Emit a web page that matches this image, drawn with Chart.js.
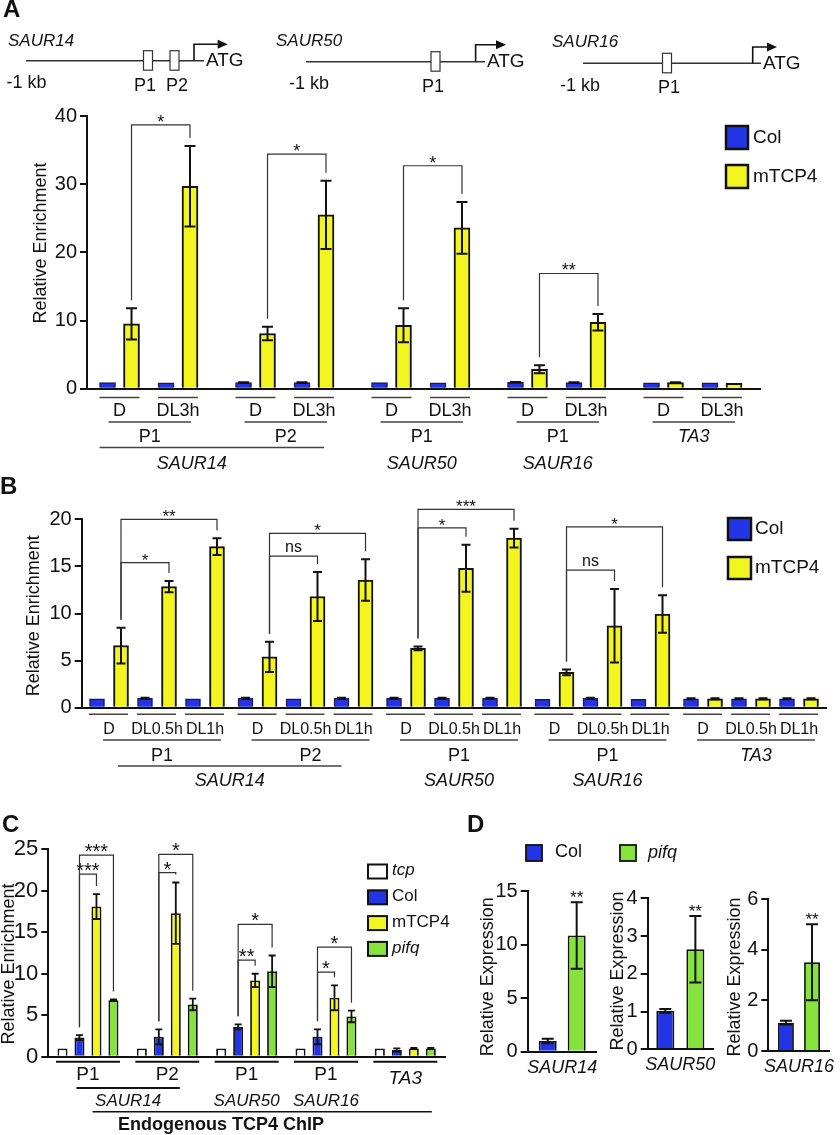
<!DOCTYPE html>
<html lang="en">
<head>
<meta charset="utf-8">
<title>TCP4 ChIP / SAUR expression</title>
<script src="https://cdn.jsdelivr.net/npm/chart.js@4.4.1/dist/chart.umd.min.js"></script>
<style>
  body { margin: 0; background: #fff; }
  #wrap { position: relative; width: 840px; height: 1135px; }
  #wrap canvas { position: absolute; left: 0; top: 0; }
</style>
</head>
<body>
<div id="wrap">
  <canvas id="cA" width="840" height="1135"></canvas>
  <canvas id="cB" width="840" height="1135"></canvas>
  <canvas id="cC" width="840" height="1135"></canvas>
  <canvas id="cD1" width="840" height="1135"></canvas>
  <canvas id="cD2" width="840" height="1135"></canvas>
  <canvas id="cD3" width="840" height="1135"></canvas>
</div>
<script>
const FONT = "'Liberation Sans', Arial, sans-serif";
const INK = '#111';
const BLUE = '#2234e4', YELLOW = '#f3f51f', GREEN = '#86e33b', WHITE = '#ffffff';

// ---- panel A : ChIP, D vs DL3h ----
const condA = ['D','DL3h','D','DL3h','D','DL3h','D','DL3h','D','DL3h'];
const colA = [0.9, 0.85, 0.9, 0.9, 0.9, 0.85, 0.95, 0.9, 0.85, 0.85];
const colAErr = [0, 0, 0.05, 0.05, 0, 0, 0.05, 0.05, 0, 0];
const tcp4A = [9.5, 29.7, 8.1, 25.5, 9.3, 23.6, 2.85, 9.75, 0.9, 0.8];
const tcp4AErr = [2.3, 5.9, 1.0, 5.0, 2.5, 3.8, 0.6, 1.2, 0.05, 0];
const primerA = [['P1',0,1], ['P2',2,3], ['P1',4,5], ['P1',6,7], ['TA3',8,9]];
const geneA = [['SAUR14',0,1], ['SAUR50',2,2], ['SAUR16',3,3]];   // primer ranges
const sigA = [[0,1,38.7,'*'], [2,3,34.4,'*'], [4,5,32.7,'*'], [6,7,16.9,'**']];
const ticksA = [0, 40, 10];

// ---- panel B : ChIP, D / DL0.5h / DL1h ----
const condB = ['D','DL0.5h','DL1h','D','DL0.5h','DL1h','D','DL0.5h','DL1h','D','DL0.5h','DL1h','D','DL0.5h','DL1h'];
const colB = [0.95, 1.0, 0.95, 1.0, 0.95, 1.0, 1.0, 1.0, 1.0, 0.9, 1.0, 0.9, 0.95, 0.95, 0.95];
const colBErr = [0, 0.05, 0, 0.05, 0, 0.05, 0.05, 0.05, 0.05, 0, 0.05, 0, 0.05, 0.05, 0.05];
const tcp4B = [6.6, 12.85, 17.1, 5.4, 11.8, 13.55, 6.3, 14.8, 18.0, 3.75, 8.7, 9.95, 0.95, 0.95, 0.95];
const tcp4BErr = [1.9, 0.6, 0.9, 1.6, 2.6, 2.2, 0.2, 2.5, 1.0, 0.3, 3.9, 2.0, 0.05, 0.05, 0.05];
const primerB = [['P1',0,2], ['P2',3,5], ['P1',6,8], ['P1',9,11], ['TA3',12,14]];
const geneB = [['SAUR14',0,1], ['SAUR50',2,2], ['SAUR16',3,3]];
const sigB = [[0,1,15.4,'*'], [0,2,20,'**'], [3,4,16.1,'ns'], [3,5,18.5,'*'],
              [6,7,19.1,'*'], [6,8,21.05,'***'], [9,10,14.6,'ns'], [9,11,19.2,'*']];
const ticksB = [0, 20, 5];

// ---- panel C : endogenous TCP4 ChIP ----
const groupC = ['P1','P2','P1','P1','TA3'];
const geneC = [['SAUR14',0,1], ['SAUR50',2,2], ['SAUR16',3,3]];
const tcpC = [1.0, 1.0, 1.0, 1.0, 1.0];
const colC = [2.3, 2.4, 3.6, 2.4, 0.8];
const colCErr = [0.3, 0.9, 0.3, 0.9, 0.2];
const tcp4C = [18.1, 17.3, 9.2, 7.1, 1.0];
const tcp4CErr = [1.5, 3.7, 0.8, 1.5, 0.05];
const pifqC = [6.8, 6.3, 10.3, 4.85, 1.0];
const pifqCErr = [0.1, 0.7, 1.9, 0.7, 0.05];
// group, dataset compared with Col, level, label
const sigC = [[0,2,22.0,'***'], [0,3,24.3,'***'], [1,2,22.2,'*'], [1,3,24.4,'*'],
              [2,2,11.65,'**'], [2,3,15.95,'*'], [3,2,10.2,'*'], [3,3,13.2,'*']];
const ticksC = [0, 25, 5];

// ---- panel D : expression ----
const geneD = ['SAUR14','SAUR50','SAUR16'];
const colD = [1.0, 1.02, 1.12];
const colDErr = [0.22, 0.05, 0.07];
const pifqD = [10.85, 2.65, 3.5];
const pifqDErr = [3.1, 0.88, 1.5];
const maxD = [15, 4, 6];
const stepD = [5, 1, 2];
const sigD = ['**', '**', '**'];

// ---------- helpers ----------
function val(p) { return (p !== null && typeof p === 'object') ? p.y : p; }
function topOf(chart, d, i) {
  const ds = chart.data.datasets[d];
  return val(ds.data[i]) + (ds.err ? ds.err[i] : 0);
}
function txt(ctx, s, x, y, size, opt) {
  opt = opt || {};
  ctx.font = (opt.style || '') + ' ' + size + 'px ' + FONT;
  ctx.fillStyle = INK;
  ctx.textAlign = opt.align || 'center';
  ctx.textBaseline = opt.base || 'middle';
  ctx.fillText(s, x, y);
}
function hline(ctx, a, b, y, w, c) {
  ctx.strokeStyle = c || '#444';
  ctx.lineWidth = w || 1.5;
  ctx.beginPath(); ctx.moveTo(a, y); ctx.lineTo(b, y); ctx.stroke();
}
function box(ctx, x, y, w, h, fill, lw) {
  ctx.fillStyle = fill; ctx.fillRect(x, y, w, h);
  ctx.lineWidth = lw; ctx.strokeStyle = INK; ctx.strokeRect(x, y, w, h);
}
function yTitle(ctx, s, x, y, size) {
  ctx.save();
  ctx.translate(x, y); ctx.rotate(-Math.PI / 2);
  txt(ctx, s, 0, 0, size);
  ctx.restore();
}
function bracket(chart, da, ia, db, ib, level, label, size) {
  const ctx = chart.ctx, ys = chart.scales.y;
  const ea = chart.getDatasetMeta(da).data[ia], eb = chart.getDatasetMeta(db).data[ib];
  const ta = ys.getPixelForValue(topOf(chart, da, ia)) - 8;
  const tb = ys.getPixelForValue(topOf(chart, db, ib)) - 8;
  const yl = ys.getPixelForValue(level);
  ctx.strokeStyle = '#333'; ctx.lineWidth = 1.2;
  ctx.beginPath();
  ctx.moveTo(ea.x, ta); ctx.lineTo(ea.x, yl); ctx.lineTo(eb.x, yl); ctx.lineTo(eb.x, tb);
  ctx.stroke();
  if (label === 'ns') txt(ctx, label, (ea.x + eb.x) / 2, yl - 4, 16, {base: 'alphabetic'});
  else txt(ctx, label, (ea.x + eb.x) / 2, yl + 3, size, {base: 'alphabetic'});
}
// x position of condition i: one unit per condition plus a small gap between primer groups
function posOf(i, primers, gap) {
  const g = primers.findIndex(p => i >= p[1] && i <= p[2]);
  return i + g * gap;
}
function pad(area, yW, xH) {
  return { left: area[0] - yW, top: area[1], right: 840 - area[2], bottom: 1135 - area[3] - xH };
}
function yScale(t, size, w) {
  return {
    min: t[0], max: t[1],
    ticks: { stepSize: t[2], color: INK, font: { family: FONT, size: size }, padding: 3 },
    grid: { drawOnChartArea: false, color: INK, lineWidth: 2, tickLength: 7 },
    border: { color: INK, width: 2 },
    afterFit: s => { s.width = w; }
  };
}

const errPlugin = {
  id: 'errbars',
  afterDatasetsDraw(chart, args, opts) {
    const ctx = chart.ctx, ys = chart.scales.y;
    const cap = opts.cap || 5;
    ctx.save();
    ctx.strokeStyle = INK; ctx.lineWidth = opts.width || 2;
    chart.data.datasets.forEach((ds, d) => {
      if (!ds.err) return;
      chart.getDatasetMeta(d).data.forEach((el, i) => {
        const e = ds.err[i];
        if (!e) return;
        const v = val(ds.data[i]);
        const y1 = ys.getPixelForValue(v + e), y2 = ys.getPixelForValue(v - e);
        ctx.beginPath();
        ctx.moveTo(el.x, y1); ctx.lineTo(el.x, y2);
        ctx.moveTo(el.x - cap, y1); ctx.lineTo(el.x + cap, y1);
        ctx.moveTo(el.x - cap, y2); ctx.lineTo(el.x + cap, y2);
        ctx.stroke();
      });
    });
    ctx.restore();
  }
};

function schematic(ctx) {
  const genes = [
    { name: 'SAUR14', nx: 8, ny: 41, x0: 26, x1: 204, y: 60.7, boxes: [[148, 'P1', 145], [174.5, 'P2', 177]], ar: 194, ae: 227.7, ay: 44.3, kb: 6.4 },
    { name: 'SAUR50', nx: 276, ny: 41, x0: 306, x1: 485, y: 61.7, boxes: [[435.5, 'P1', 433]], ar: 475.6, ae: 506, ay: 44.7, kb: 289 },
    { name: 'SAUR16', nx: 552, ny: 42, x0: 583, x1: 761, y: 63.3, boxes: [[667, 'P1', 669]], ar: 752.7, ae: 777, ay: 47, kb: 560 }
  ];
  genes.forEach(g => {
    txt(ctx, g.name, g.nx, g.ny, 17, {style: 'italic', align: 'left'});
    hline(ctx, g.x0, g.x1, g.y, 1.6, '#333');
    g.boxes.forEach(b => {
      ctx.fillStyle = '#fff'; ctx.fillRect(b[0] - 4.5, g.y - 10, 9, 19.5);
      ctx.strokeStyle = '#333'; ctx.lineWidth = 1.2; ctx.strokeRect(b[0] - 4.5, g.y - 10, 9, 19.5);
      txt(ctx, b[1], b[2], g.y + 25, 18);
    });
    ctx.strokeStyle = INK; ctx.lineWidth = 1.6;
    ctx.beginPath(); ctx.moveTo(g.ar, g.y); ctx.lineTo(g.ar, g.ay); ctx.lineTo(g.ae - 7, g.ay); ctx.stroke();
    ctx.fillStyle = INK;
    ctx.beginPath(); ctx.moveTo(g.ae, g.ay); ctx.lineTo(g.ae - 10, g.ay - 4.5); ctx.lineTo(g.ae - 10, g.ay + 4.5); ctx.closePath(); ctx.fill();
    txt(ctx, 'ATG', g.x1 + 2, g.y + 0.5, 19, {align: 'left'});
    txt(ctx, '-1 kb', g.kb, g.y + 22.5, 18, {align: 'left'});
  });
}

// ---------- panel A ----------
const areaA = [87, 116, 760, 388.7];
const gapA = 0.325, offA = 0.205;
function drawA(chart) {
  const ctx = chart.ctx, xs = chart.scales.x;
  const cx = i => xs.getPixelForValue(posOf(i, primerA, gapA));
  ctx.save();
  txt(ctx, 'A', 3, 10, 24, {style: 'bold', align: 'left'});
  schematic(ctx);
  yTitle(ctx, 'Relative Enrichment', 41, 243, 18);
  box(ctx, 726, 126, 22, 23, BLUE, 2.5); txt(ctx, 'Col', 753, 137.5, 19, {align: 'left'});
  box(ctx, 726, 165, 22, 23, YELLOW, 2.5); txt(ctx, 'mTCP4', 753, 176.5, 19, {align: 'left'});
  condA.forEach((c, i) => { hline(ctx, cx(i) - 20, cx(i) + 20, 397.5); txt(ctx, c, cx(i), 411.5, 18); });
  const pc = primerA.map(p => {
    const a = cx(p[1]) - 11, b = cx(p[2]) + 13;
    hline(ctx, a, b, 422);
    txt(ctx, p[0], (a + b) / 2, 437, 18, {style: p[0] === 'TA3' ? 'italic' : ''});
    return (a + b) / 2;
  });
  geneA.forEach(g => {
    let x = pc[g[1]];
    if (g[2] > g[1]) {
      const a = cx(primerA[g[1]][1]) - 20, b = cx(primerA[g[2]][2]) + 10;
      hline(ctx, a, b, 447.5);
      x = (a + b) / 2 - 20;
    }
    txt(ctx, g[0], x, 463.5, 18, {style: 'italic'});
  });
  sigA.forEach(s => bracket(chart, 1, s[0], 1, s[1], s[2], s[3], 18));
  ctx.restore();
}
new Chart(document.getElementById('cA'), {
  type: 'bar',
  data: { datasets: [
    { label: 'Col', data: condA.map((c, i) => ({ x: posOf(i, primerA, gapA) - offA, y: colA[i] })), err: colAErr,
      backgroundColor: BLUE, borderColor: '#1a1a55', borderWidth: 1.5, barThickness: 16 },
    { label: 'mTCP4', data: condA.map((c, i) => ({ x: posOf(i, primerA, gapA) + offA, y: tcp4A[i] })), err: tcp4AErr,
      backgroundColor: YELLOW, borderColor: INK, borderWidth: 2, barThickness: 16 }
  ]},
  options: {
    responsive: false, animation: false, events: [],
    layout: { padding: pad(areaA, 60, 0) },
    datasets: { bar: { grouped: false } },
    scales: {
      x: { type: 'linear', min: -0.556, max: 10.95, offset: false, ticks: { display: false }, grid: { display: false },
           border: { color: INK, width: 2 }, afterFit: s => { s.height = 0; } },
      y: yScale(ticksA, 20, 60)
    },
    plugins: { legend: { display: false }, tooltip: { enabled: false }, errbars: { cap: 5.5, width: 2 } }
  },
  plugins: [errPlugin, { id: 'decoA', afterDraw: drawA }]
});

// ---------- panel B ----------
const areaB = [81.7, 519.3, 826.7, 707.7];
const gapB = 0.094, offB = 0.25;
function drawB(chart) {
  const ctx = chart.ctx, xs = chart.scales.x;
  const cx = i => xs.getPixelForValue(posOf(i, primerB, gapB));
  ctx.save();
  txt(ctx, 'B', 0, 487, 24, {style: 'bold', align: 'left'});
  yTitle(ctx, 'Relative Enrichment', 34.5, 615.7, 18);
  box(ctx, 728, 518, 23, 22, BLUE, 2.5); txt(ctx, 'Col', 755, 529, 19, {align: 'left'});
  box(ctx, 728, 557, 23, 22, YELLOW, 2.5); txt(ctx, 'mTCP4', 755, 568, 19, {align: 'left'});
  condB.forEach((c, i) => { hline(ctx, cx(i) - 20, cx(i) + 19, 714.3); txt(ctx, c, cx(i), 730, 16); });
  const pc = primerB.map(p => {
    const a = cx(p[1]) - 6, b = cx(p[2]) + 16;
    hline(ctx, a, b, 740);
    txt(ctx, p[0], (a + b) / 2, 755.7, 18, {style: p[0] === 'TA3' ? 'italic' : ''});
    return (a + b) / 2;
  });
  geneB.forEach(g => {
    let x = pc[g[1]];
    if (g[2] > g[1]) {
      const a = cx(primerB[g[1]][1]) + 9, b = cx(primerB[g[2]][2]) - 12;
      hline(ctx, a, b, 766);
      x = (a + b) / 2;
    }
    txt(ctx, g[0], x, 781, 18, {style: 'italic'});
  });
  sigB.forEach(s => bracket(chart, 1, s[0], 1, s[1], s[2], s[3], 17));
  ctx.restore();
}
new Chart(document.getElementById('cB'), {
  type: 'bar',
  data: { datasets: [
    { label: 'Col', data: condB.map((c, i) => ({ x: posOf(i, primerB, gapB) - offB, y: colB[i] })), err: colBErr,
      backgroundColor: BLUE, borderColor: '#1a1a55', borderWidth: 1.5, barThickness: 15 },
    { label: 'mTCP4', data: condB.map((c, i) => ({ x: posOf(i, primerB, gapB) + offB, y: tcp4B[i] })), err: tcp4BErr,
      backgroundColor: YELLOW, borderColor: INK, borderWidth: 2, barThickness: 15 }
  ]},
  options: {
    responsive: false, animation: false, events: [],
    layout: { padding: pad(areaB, 60, 0) },
    datasets: { bar: { grouped: false } },
    scales: {
      x: { type: 'linear', min: -0.569, max: 14.953, offset: false, ticks: { display: false }, grid: { display: false },
           border: { color: INK, width: 2 }, afterFit: s => { s.height = 0; } },
      y: yScale(ticksB, 20, 60)
    },
    plugins: { legend: { display: false }, tooltip: { enabled: false }, errbars: { cap: 4.5, width: 2 } }
  },
  plugins: [errPlugin, { id: 'decoB', afterDraw: drawB }]
});

// ---------- panel C ----------
const areaC = [48.3, 849.3, 445, 1056.7];
function drawC(chart) {
  const ctx = chart.ctx, xs = chart.scales.x;
  const gc = i => xs.getPixelForValue(i);
  ctx.save();
  txt(ctx, 'C', 2, 825, 24, {style: 'bold', align: 'left'});
  yTitle(ctx, 'Relative Enrichment', 9, 964, 18);
  const leg = [['tcp', WHITE, 'italic'], ['Col', BLUE, ''], ['mTCP4', YELLOW, ''], ['pifq', GREEN, 'italic']];
  leg.forEach((l, k) => {
    const yc = 871.5 + k * 25.8;
    box(ctx, 368, yc - 7, 19, 14, l[1], 2);
    txt(ctx, l[0], 392, yc - 1, 17, {align: 'left', style: l[2]});
  });
  groupC.forEach((p, i) => {
    hline(ctx, gc(i) - 32, gc(i) + 32, 1061.7, 2, INK);
    if (p === 'TA3') txt(ctx, p, gc(i), 1079, 19, {style: 'italic'});
    else txt(ctx, p, gc(i), 1075, 19);
  });
  geneC.forEach(g => {
    let x = gc(g[1]);
    if (g[2] > g[1]) {
      const a = gc(g[1]) - 11.5, b = gc(g[2]) + 12.5;
      hline(ctx, a, b, 1088, 2, INK);
      x = (a + b) / 2;
    }
    txt(ctx, g[0], x, 1101, 17, {style: 'italic'});
  });
  hline(ctx, gc(0) + 4.5, gc(groupC.length - 1) + 26.5, 1111.7, 1.5, INK);
  txt(ctx, 'Endogenous TCP4 ChIP', 221, 1125, 18, {style: 'bold'});
  sigC.forEach(s => bracket(chart, 1, s[0], s[1], s[0], s[2], s[3], 20));
  ctx.restore();
}
const barC = { borderColor: INK, borderWidth: 1.8, categoryPercentage: 0.856, barPercentage: 0.59 };
new Chart(document.getElementById('cC'), {
  type: 'bar',
  data: { labels: groupC, datasets: [
    Object.assign({ label: 'tcp', data: tcpC, backgroundColor: WHITE }, barC),
    Object.assign({ label: 'Col', data: colC, err: colCErr, backgroundColor: BLUE }, barC),
    Object.assign({ label: 'mTCP4', data: tcp4C, err: tcp4CErr, backgroundColor: YELLOW }, barC),
    Object.assign({ label: 'pifq', data: pifqC, err: pifqCErr, backgroundColor: GREEN }, barC)
  ]},
  options: {
    responsive: false, animation: false, events: [],
    layout: { padding: pad(areaC, 45, 0) },
    scales: {
      x: { ticks: { display: false }, grid: { display: false }, border: { color: INK, width: 2 },
           afterFit: s => { s.height = 0; } },
      y: yScale(ticksC, 22, 45)
    },
    plugins: { legend: { display: false }, tooltip: { enabled: false }, errbars: { cap: 3.5, width: 1.8 } }
  },
  plugins: [errPlugin, { id: 'decoC', afterDraw: drawC }]
});

// ---------- panel D ----------
const areaD = [[527.7, 891, 596.7, 1051.7], [647.7, 898.3, 713, 1049.3], [768.3, 899, 838, 1051]];
const barD = [[0.84, 0.62], [0.92, 0.6], [0.85, 0.61]];
const titleD = [[488.5, 976.7], [618.3, 971], [735, 977]];
function drawD(chart, k) {
  const ctx = chart.ctx, ys = chart.scales.y;
  ctx.save();
  if (k === 0) {
    txt(ctx, 'D', 467, 825, 24, {style: 'bold', align: 'left'});
    box(ctx, 526, 845, 16, 16, BLUE, 1.8); txt(ctx, 'Col', 555, 852.5, 18, {align: 'left'});
    box(ctx, 620, 845, 16, 16, GREEN, 1.8); txt(ctx, 'pifq', 648, 852.5, 18, {align: 'left', style: 'italic'});
  }
  yTitle(ctx, 'Relative Expression', titleD[k][0], titleD[k][1], 18);
  const el = chart.getDatasetMeta(1).data[0];
  txt(ctx, sigD[k], el.x, ys.getPixelForValue(topOf(chart, 1, 0)) + 1, 17, {base: 'alphabetic'});
  ctx.restore();
}
geneD.forEach((g, k) => {
  const common = { borderColor: INK, borderWidth: 1.8, categoryPercentage: barD[k][0], barPercentage: barD[k][1] };
  new Chart(document.getElementById('cD' + (k + 1)), {
    type: 'bar',
    data: { labels: [g], datasets: [
      Object.assign({ label: 'Col', data: [colD[k]], err: [colDErr[k]], backgroundColor: BLUE }, common),
      Object.assign({ label: 'pifq', data: [pifqD[k]], err: [pifqDErr[k]], backgroundColor: GREEN }, common)
    ]},
    options: {
      responsive: false, animation: false, events: [],
      layout: { padding: pad(areaD[k], 40, 30) },
      scales: {
        x: { ticks: { color: INK, font: { family: FONT, size: 18, style: 'italic' }, padding: 5 },
             grid: { display: false, drawTicks: false }, border: { color: INK, width: 2 },
             afterFit: s => { s.height = 30; } },
        y: yScale([0, maxD[k], stepD[k]], 20, 40)
      },
      plugins: { legend: { display: false }, tooltip: { enabled: false }, errbars: { cap: 6, width: 2 } }
    },
    plugins: [errPlugin, { id: 'decoD' + k, afterDraw: c => drawD(c, k) }]
  });
});
</script>
</body>
</html>
